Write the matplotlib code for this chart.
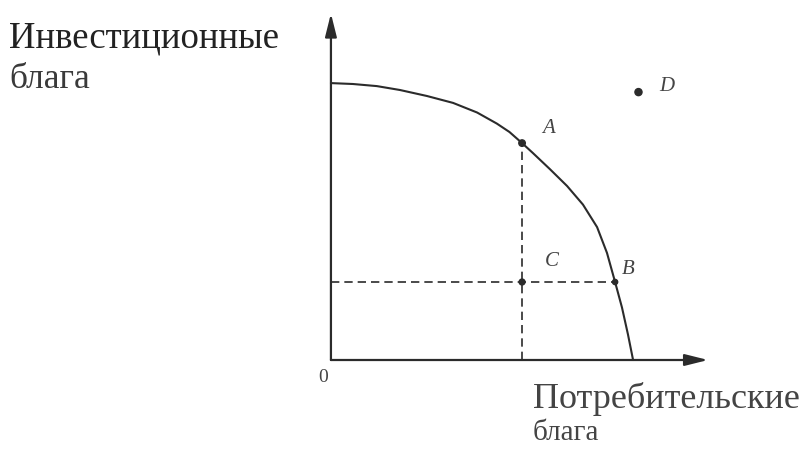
import numpy as np
import matplotlib.pyplot as plt

# кривая производственных возможностей (точки)
curve_x = [0, 0.73, 1.53, 2.3, 3.2, 4.07, 4.87, 5.53, 5.95, 6.37, 6.73, 7.3, 7.87, 8.4, 8.87, 9.2, 9.47, 9.7, 9.9, 10.07]
curve_y = [9.23, 9.2, 9.13, 9.0, 8.8, 8.57, 8.25, 7.88, 7.6, 7.23, 6.9, 6.36, 5.8, 5.18, 4.43, 3.57, 2.6, 1.75, 0.85, 0]

points = ["A", "B", "C", "D"]
pts_x = [6.37, 9.47, 6.37, 10.25]
pts_y = [7.23, 2.6, 2.6, 8.93]

y_label = ["Инвестиционные", "блага"]
x_label = ["Потребительские", "блага"]

ink = "#2b2b2b"
serif = "Liberation Serif"

fig = plt.figure(figsize=(8.08, 4.53), dpi=100)
ax = fig.add_axes([0, 0, 1, 1])
ax.set_xlim(-11.03, 15.9)
ax.set_ylim(-3.1, 12.0)
ax.axis("off")

# оси со стрелками
arrow = dict(arrowstyle="-|>,head_length=1.4,head_width=0.35", color=ink, lw=1.6, shrinkA=0, shrinkB=0)
ax.annotate("", xy=(12.57, 0), xytext=(0, 0), arrowprops=arrow)
ax.annotate("", xy=(0, 11.55), xytext=(0, 0), arrowprops=arrow)

ax.plot(curve_x, curve_y, color=ink, lw=1.5, solid_capstyle="round", solid_joinstyle="round")

# пунктир от A и B
ax.plot([pts_x[0], pts_x[0]], [0, pts_y[0]], color=ink, lw=1.2, ls=(0, (5, 3)))
ax.plot([0, pts_x[1]], [pts_y[1], pts_y[1]], color=ink, lw=1.2, ls=(0, (5, 3)))

ax.scatter(pts_x, pts_y, s=[22, 14, 18, 26], color=ink, zorder=3)

offsets = [(0.88, 0.5), (0.45, 0.43), (1.0, 0.7), (0.95, 0.2)]
for name, x, y, (dx, dy) in zip(points, pts_x, pts_y, offsets):
    ax.text(x + dx, y + dy, name, family=serif, style="italic", fontsize=15,
            color="#444444", ha="center", va="center")

ax.text(-0.27, -0.6, "0", family=serif, fontsize=14, color="#444444", ha="center", va="center")

# подписи осей
ax.text(-10.72, 10.4, y_label[0], family=serif, fontsize=26.5, color="#222222", va="baseline")
ax.text(-10.72, 9.07, y_label[1], family=serif, fontsize=25.5, color="#3a3a3a", va="baseline")
ax.text(6.73, -1.6, x_label[0], family=serif, fontsize=26, color="#444444", va="baseline")
ax.text(6.73, -2.67, x_label[1], family=serif, fontsize=21, color="#444444", va="baseline")

fig.savefig("out.png", dpi=100)
